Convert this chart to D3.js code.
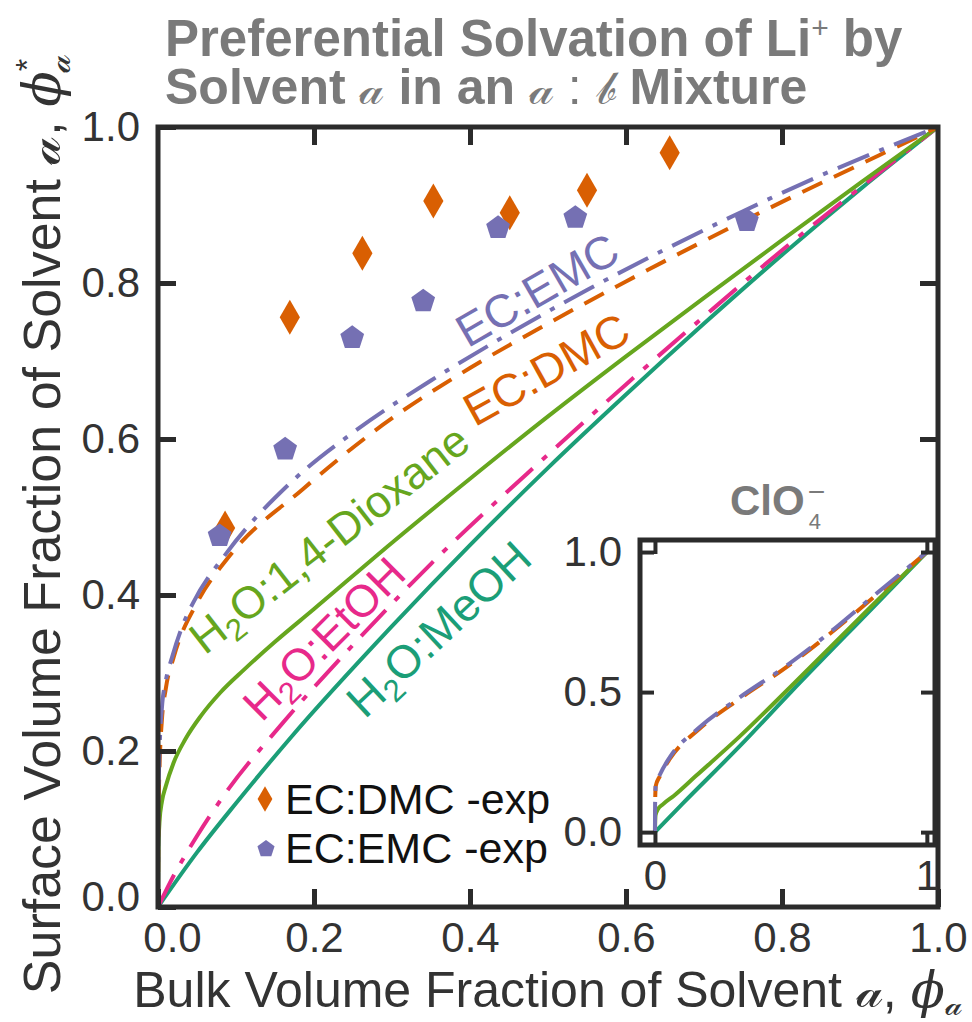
<!DOCTYPE html>
<html><head><meta charset="utf-8">
<script src="https://cdn.jsdelivr.net/npm/d3@7"></script>
<style>body{margin:0;background:#fff}</style>
</head><body><svg id="c" width="972" height="1022" xmlns="http://www.w3.org/2000/svg"></svg>
<script>
// ---------------- data ----------------
const mainTickValues = [0, 0.2, 0.4, 0.6, 0.8, 1.0];
const mainTickLabels = ["0.0", "0.2", "0.4", "0.6", "0.8", "1.0"];
const insetYTickValues = [0, 0.5, 1];
const insetYTickLabels = ["0.0", "0.5", "1.0"];
const insetXTickValues = [0, 1];
const insetXTickLabels = ["0", "1"];

// EC:EMC model curve
const emcX = [0, 0.0005, 0.002, 0.005, 0.01, 0.018, 0.032, 0.045, 0.088, 0.169, 0.255, 0.35, 0.45, 0.55, 0.65, 0.75, 0.85, 0.95, 1];
const emcY = [0, 0.13, 0.2, 0.255, 0.29, 0.32, 0.362, 0.39, 0.454, 0.543, 0.612, 0.675, 0.735, 0.791, 0.843, 0.892, 0.938, 0.98, 1];
// EC:DMC model curve
const dmcX = [0, 0.0005, 0.002, 0.005, 0.01, 0.02, 0.05, 0.09, 0.186, 0.288, 0.4, 0.5, 0.6, 0.7, 0.8, 0.9, 1];
const dmcY = [0, 0.11, 0.18, 0.24, 0.28, 0.32, 0.39, 0.448, 0.536, 0.618, 0.691, 0.748, 0.802, 0.854, 0.904, 0.952, 1];
// H2O:1,4-Dioxane
const dioxX = [0, 0.0005, 0.002, 0.005, 0.01, 0.02, 0.035, 0.055, 0.08, 0.11, 0.15, 0.2, 0.3, 0.4, 0.5, 0.6, 0.7, 0.8, 0.9, 1];
const dioxY = [0, 0.07, 0.11, 0.135, 0.155, 0.185, 0.215, 0.245, 0.275, 0.304, 0.34, 0.382, 0.467, 0.549, 0.629, 0.706, 0.781, 0.855, 0.928, 1];
// H2O:EtOH
const etohX = [0, 0.02, 0.05, 0.083, 0.16, 0.25, 0.35, 0.5, 0.6, 0.7, 0.8, 0.9, 1];
const etohY = [0, 0.04, 0.091, 0.141, 0.236, 0.336, 0.44, 0.58, 0.67, 0.757, 0.842, 0.922, 1];
// H2O:MeOH
const meohX = [0, 0.05, 0.1, 0.17, 0.3, 0.4, 0.5, 0.6, 0.7, 0.8, 0.9, 1];
const meohY = [0, 0.07, 0.133, 0.217, 0.36, 0.464, 0.563, 0.657, 0.748, 0.836, 0.92, 1];
// experiments
const expDmcX = [0.086, 0.169, 0.262, 0.353, 0.451, 0.55, 0.656];
const expDmcY = [0.486, 0.756, 0.838, 0.905, 0.89, 0.919, 0.967];
const expEmcX = [0.079, 0.163, 0.249, 0.34, 0.436, 0.535, 0.755];
const expEmcY = [0.477, 0.588, 0.731, 0.778, 0.872, 0.885, 0.881];
// inset (ClO4-)
const insetEcX = [0, 0.0005, 0.003, 0.018, 0.055, 0.165, 0.31, 0.485, 0.62, 0.8, 1];
const insetEmcY = [0, 0.1, 0.17, 0.205, 0.268, 0.375, 0.48, 0.595, 0.695, 0.84, 1];
const insetDmcY = [0, 0.1, 0.165, 0.2, 0.262, 0.37, 0.475, 0.59, 0.69, 0.835, 1];
const insetDioxX = [0, 0.002, 0.01, 0.03, 0.07, 0.15, 0.31, 0.5, 0.8, 1];
const insetDioxY = [0, 0.06, 0.08, 0.1, 0.13, 0.2, 0.34, 0.52, 0.81, 1];
const insetMeohX = [0, 0.1, 0.31, 0.5, 0.8, 1];
const insetMeohY = [0, 0.1, 0.305, 0.5, 0.8, 1];

// ---------------- setup ----------------
const FONT = "'Liberation Sans', Arial, Helvetica, sans-serif";
const SCRIPT_FONT = "'DejaVu Serif', 'DejaVu Sans', serif";
const SA = "\u{1D4B6}", SB = "\u{1D4B7}";
const COL = {dmc: "#d95f02", emc: "#7570b3", diox: "#66a61e", etoh: "#e7298a", meoh: "#1b9e77"};
const INK = "#2b2b2b", TXT = "#333333", TITLE = "#7a7a7a";

const svg = d3.select("#c").attr("font-family", FONT);
const x = d3.scaleLinear().domain([0, 1]).range([158, 938]);
const y = d3.scaleLinear().domain([0, 1]).range([907, 127]);

const zip = (a, b) => a.map((v, i) => [v, b[i]]);

function rich(sel, parts) {
  parts.forEach(p => {
    const ts = sel.append("tspan").text(p.t);
    if (p.size) ts.attr("font-size", p.size);
    if (p.dy !== undefined) ts.attr("dy", p.dy);
    if (p.dx !== undefined) ts.attr("dx", p.dx);
    if (p.family) ts.attr("font-family", p.family);
    if (p.style) ts.attr("font-style", p.style);
    if (p.weight) ts.attr("font-weight", p.weight);
  });
  return sel;
}

// ---------------- main plot ----------------
const lineMain = d3.line().x(d => x(d[0])).y(d => y(d[1])).curve(d3.curveMonotoneX);
const series = [
  {pts: zip(meohX, meohY), c: COL.meoh, dash: null},
  {pts: zip(etohX, etohY), c: COL.etoh, dash: "36,13,6,13"},
  {pts: zip(dioxX, dioxY), c: COL.diox, dash: null},
  {pts: zip(dmcX, dmcY), c: COL.dmc, dash: "22,13"},
  {pts: zip(emcX, emcY), c: COL.emc, dash: "34,11,5,11"}
];
const gLines = svg.append("g");
series.forEach(s => {
  gLines.append("path").datum(s.pts).attr("d", lineMain)
    .attr("fill", "none").attr("stroke", s.c).attr("stroke-width", 4)
    .attr("stroke-dasharray", s.dash);
});

// markers
const diamond = d3.symbol().type(d3.symbolDiamond).size(354);
function pentagonPath(r) {
  const pts = d3.range(5).map(i => {
    const a = -Math.PI / 2 + i * 2 * Math.PI / 5;
    return [r * Math.cos(a), r * Math.sin(a)];
  });
  return "M" + pts.map(p => p.join(",")).join("L") + "Z";
}
svg.append("g").selectAll("path").data(zip(expDmcX, expDmcY)).join("path")
  .attr("d", diamond).attr("transform", d => `translate(${x(d[0])},${y(d[1])})`)
  .attr("fill", COL.dmc);
svg.append("g").selectAll("path").data(zip(expEmcX, expEmcY)).join("path")
  .attr("d", pentagonPath(12.5)).attr("transform", d => `translate(${x(d[0])},${y(d[1]) + 1})`)
  .attr("fill", COL.emc);

// curve labels
const H2O = rest => [{t: "H"}, {t: "2", size: 31, dy: 9}, {t: "O" + rest, dy: -9}];
const curveLabels = [
  {parts: [{t: "EC:EMC"}], at: [0.397, 0.716], angle: -30, c: COL.emc, size: 46},
  {parts: [{t: "EC:DMC"}], at: [0.406, 0.615], angle: -29, c: COL.dmc, size: 46},
  {parts: H2O(":1,4-Dioxane"), at: [0.06, 0.322], angle: -38, c: COL.diox, size: 45},
  {parts: H2O(":EtOH"), at: [0.133, 0.236], angle: -45, c: COL.etoh, size: 45},
  {parts: H2O(":MeOH"), at: [0.265, 0.24], angle: -43, c: COL.meoh, size: 46}
];
curveLabels.forEach(l => {
  const t = svg.append("text")
    .attr("transform", `translate(${x(l.at[0])},${y(l.at[1])}) rotate(${l.angle})`)
    .attr("font-size", l.size).attr("fill", l.c);
  rich(t, l.parts);
});

// axes (inward ticks)
function styleAxis(g, size) {
  g.select(".domain").remove();
  g.attr("font-family", FONT).attr("font-size", size || 42);
  g.selectAll(".tick line").attr("stroke", INK).attr("stroke-width", 5);
  g.selectAll(".tick text").attr("fill", TXT);
}
const inner = [0.2, 0.4, 0.6, 0.8];
const gB = svg.append("g").attr("transform", "translate(0,907)")
  .call(d3.axisBottom(x).tickValues(mainTickValues)
    .tickFormat((d, i) => mainTickLabels[i]).tickSizeInner(-18).tickSizeOuter(0).tickPadding(15));
styleAxis(gB);
gB.selectAll(".tick").filter(d => d === 0).select("text").attr("dx", 14);
const gL = svg.append("g").attr("transform", "translate(158,0)")
  .call(d3.axisLeft(y).tickValues(mainTickValues)
    .tickFormat((d, i) => mainTickLabels[i]).tickSizeInner(-18).tickSizeOuter(0).tickPadding(18));
styleAxis(gL);
gL.selectAll(".tick").filter(d => d === 0).select("text").attr("y", -10);
const gT = svg.append("g").attr("transform", "translate(0,127)")
  .call(d3.axisTop(x).tickValues(inner).tickFormat("").tickSizeInner(-18).tickSizeOuter(0));
styleAxis(gT);
const gR = svg.append("g").attr("transform", "translate(938,0)")
  .call(d3.axisRight(y).tickValues(inner).tickFormat("").tickSizeInner(-18).tickSizeOuter(0));
styleAxis(gR);

// frame
svg.append("rect").attr("x", 158).attr("y", 127).attr("width", 780).attr("height", 780)
  .attr("fill", "none").attr("stroke", INK).attr("stroke-width", 5);

// legend
const gLeg = svg.append("g");
gLeg.append("path").attr("d", d3.symbol().type(d3.symbolDiamond).size(190)).attr("transform", "translate(265,799)").attr("fill", COL.dmc);
gLeg.append("path").attr("d", pentagonPath(9)).attr("transform", "translate(266,849)").attr("fill", COL.emc);
gLeg.append("text").attr("x", 285).attr("y", 814).attr("font-size", 43).attr("fill", "#111").text("EC:DMC -exp");
gLeg.append("text").attr("x", 285).attr("y", 863).attr("font-size", 43).attr("fill", "#111").text("EC:EMC -exp");

// ---------------- inset ----------------
const xi = d3.scaleLinear().domain([-0.055, 1.03]).range([640, 935]);
const yi = d3.scaleLinear().domain([-0.046, 1.043]).range([845, 540]);
const gI = svg.append("g");
gI.append("rect").attr("x", 640).attr("y", 540).attr("width", 295).attr("height", 305).attr("fill", "#fff");
const lineIn = d3.line().x(d => xi(d[0])).y(d => yi(d[1])).curve(d3.curveMonotoneX);
[
  {pts: zip(insetMeohX, insetMeohY), c: COL.meoh, dash: null},
  {pts: zip(insetDioxX, insetDioxY), c: COL.diox, dash: null},
  {pts: zip(insetEcX, insetDmcY), c: COL.dmc, dash: "22,13"},
  {pts: zip(insetEcX, insetEmcY), c: COL.emc, dash: "30,11,5,11"}
].forEach(s => {
  gI.append("path").datum(s.pts).attr("d", lineIn).attr("fill", "none")
    .attr("stroke", s.c).attr("stroke-width", 4).attr("stroke-dasharray", s.dash);
});
const giL = gI.append("g").attr("transform", "translate(640,0)")
  .call(d3.axisLeft(yi).tickValues(insetYTickValues).tickFormat((d, i) => insetYTickLabels[i])
    .tickSizeInner(-14).tickSizeOuter(0).tickPadding(18));
styleAxis(giL);
const giB = gI.append("g").attr("transform", "translate(0,845)")
  .call(d3.axisBottom(xi).tickValues(insetXTickValues).tickFormat((d, i) => insetXTickLabels[i])
    .tickSizeInner(-14).tickSizeOuter(0).tickPadding(15));
styleAxis(giB);
const giT = gI.append("g").attr("transform", "translate(0,540)")
  .call(d3.axisTop(xi).tickValues(insetXTickValues).tickFormat("").tickSizeInner(-14).tickSizeOuter(0));
styleAxis(giT);
const giR = gI.append("g").attr("transform", "translate(935,0)")
  .call(d3.axisRight(yi).tickValues(insetYTickValues).tickFormat("").tickSizeInner(-14).tickSizeOuter(0));
styleAxis(giR);
gI.selectAll(".tick line").attr("stroke-width", 4);
gI.append("rect").attr("x", 640).attr("y", 540).attr("width", 295).attr("height", 305)
  .attr("fill", "none").attr("stroke", INK).attr("stroke-width", 5);
// inset title
const clo = svg.append("text").attr("x", 730).attr("y", 515).attr("font-size", 42)
  .attr("font-weight", "bold").attr("fill", TITLE).text("ClO");
const cloW = clo.node().getComputedTextLength();
svg.append("text").attr("x", 730 + cloW + 3).attr("y", 502).attr("font-size", 30).attr("fill", TITLE).text("\u2212");
svg.append("text").attr("x", 730 + cloW + 4).attr("y", 529).attr("font-size", 22).attr("fill", TITLE).text("4");

// ---------------- titles ----------------
const t1 = svg.append("text").attr("x", 165).attr("y", 56).attr("font-size", 51)
  .attr("font-weight", "bold").attr("fill", TITLE);
rich(t1, [{t: "Preferential Solvation of Li"}, {t: "+", size: 30, dy: -18, weight: "normal"}, {t: " by", dy: 18}]);
const t2 = svg.append("text").attr("x", 165).attr("y", 104).attr("font-size", 50)
  .attr("font-weight", "bold").attr("fill", TITLE);
rich(t2, [{t: "Solvent "}, {t: SA, family: SCRIPT_FONT, weight: "normal", size: 46},
  {t: " in an "}, {t: SA, family: SCRIPT_FONT, weight: "normal", size: 46},
  {t: " : ", weight: "normal"}, {t: SB, family: SCRIPT_FONT, weight: "normal", size: 46}, {t: " Mixture"}]);

// axis labels
const xl = svg.append("text").attr("x", 548).attr("y", 1007).attr("text-anchor", "middle")
  .attr("font-size", 50).attr("fill", TXT);
rich(xl, [{t: "Bulk Volume Fraction of Solvent "}, {t: SA, family: SCRIPT_FONT, size: 50},
  {t: ", "}, {t: "\u03D5", family: SCRIPT_FONT, style: "italic"}, {t: SA, family: SCRIPT_FONT, size: 32, dy: 8}]);
const yl = svg.append("text").attr("transform", "translate(60,524) rotate(-90)").attr("text-anchor", "middle")
  .attr("font-size", 52).attr("fill", TXT);
rich(yl, [{t: "Surface Volume Fraction of Solvent "}, {t: SA, family: SCRIPT_FONT, size: 52},
  {t: ", "}, {t: "\u03D5", family: SCRIPT_FONT, style: "italic"},
  {t: "*", size: 32, dy: -22}, {t: SA, family: SCRIPT_FONT, size: 34, dx: -14, dy: 32}]);
</script>
</body></html>
